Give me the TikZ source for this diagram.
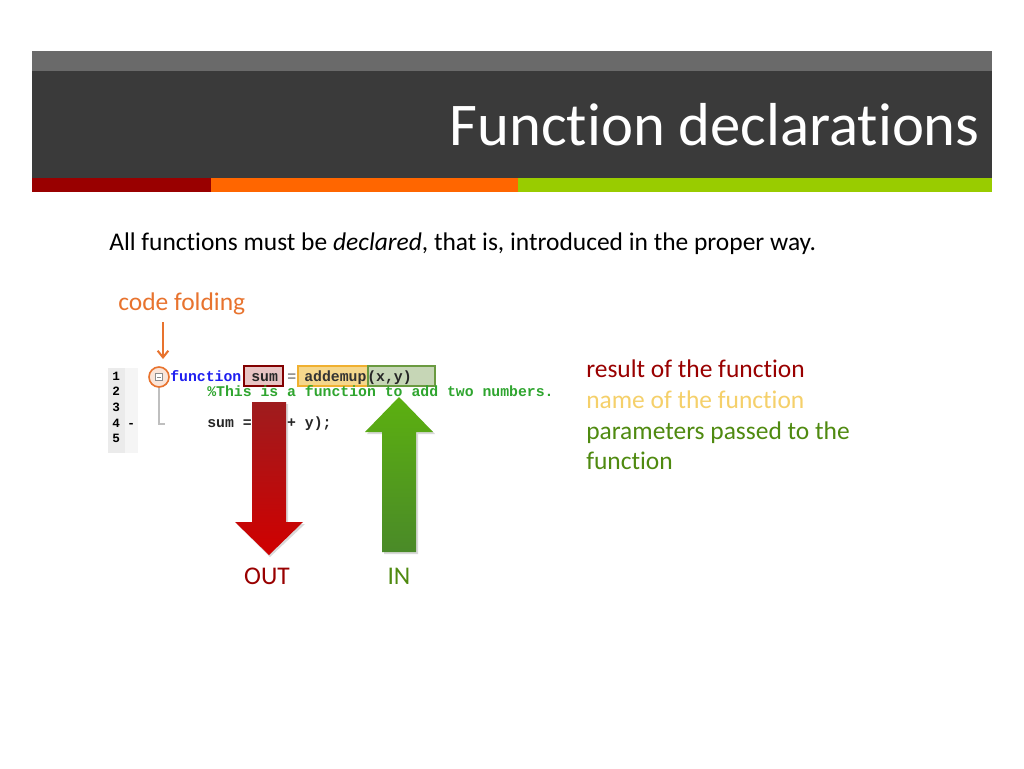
\documentclass[tikz,border=0pt]{standalone}
\usepackage{fontspec}
\usetikzlibrary{arrows.meta}
\setmainfont[Ligatures={NoCommon}]{Carlito}
\newfontfamily\codefont{Liberation Mono}
\definecolor{hdrtop}{HTML}{6A6A6A}
\definecolor{hdrdark}{HTML}{3A3A3A}
\definecolor{stripred}{HTML}{990000}
\definecolor{striporange}{HTML}{FF6600}
\definecolor{stripgreen}{HTML}{99CC00}
\definecolor{outred}{HTML}{990000}
\definecolor{ingreen}{HTML}{4F8A10}
\definecolor{namegold}{HTML}{F5D06A}
\definecolor{foldorange}{HTML}{E8732E}
\definecolor{kwblue}{HTML}{1E1EF0}
\definecolor{cmtgreen}{HTML}{2FA52F}
\begin{document}
\begin{tikzpicture}[x=0.75pt,y=-0.75pt,
  body/.style={font=\fontsize{19.1}{23}\selectfont, inner sep=0pt, anchor=base west},
  code/.style={font=\codefont\bfseries\fontsize{11.1}{12}\selectfont, inner sep=0pt, anchor=base west},
  lnum/.style={font=\codefont\bfseries\fontsize{9.5}{11}\selectfont, inner sep=0pt, anchor=base west},
  hlbox/.style={line width=1pt}]
\useasboundingbox (0,0) rectangle (1024,768);
\fill[white] (0,0) rectangle (1024,768);
% header
\fill[hdrtop] (32,51) rectangle (992,71);
\fill[hdrdark] (32,71) rectangle (992,178);
\fill[stripred] (32,178) rectangle (211,192);
\fill[striporange] (211,178) rectangle (518,192);
\fill[stripgreen] (518,178) rectangle (992,192);
\node[font=\fontsize{45.5}{54}\selectfont, text=white, inner sep=0pt, anchor=base east] (title) at (980,145) {Function declarations};
% body
\node[body] (intro) at (109,250) {All functions must be \textit{declared}, that is, introduced in the proper way.};
\node[body, text=foldorange] (fold) at (118,310) {code folding};
\coordinate (foldarrowtop) at (163,322);
% code gutter
\fill[black!8] (108,368) rectangle (138,453);
\fill[black!4] (125,368) rectangle (138,453);
\node[lnum] (l1) at (112,380) {1};
\node[lnum] (l2) at (112,395) {2};
\node[lnum] (l3) at (112,411) {3};
\node[lnum] (l4) at (112,427) {4};
\node[lnum] (l4m) at (127,427) {-};
\node[lnum] (l5) at (112,442) {5};
% fold marker line
\draw[black!25, line width=0.8pt] (159,387) -- (159,424) -- (165,424);
% highlight boxes
\draw[hlbox, draw=outred!85!black, fill={rgb,255:red,232;green,196;blue,196}] (244,366) rectangle (283,386);
\draw[hlbox, draw={rgb,255:red,240;green,176;blue,48}, fill={rgb,255:red,245;green,215;blue,140}] (298,366) rectangle (368,386);
\draw[hlbox, draw={rgb,255:red,106;green,154;blue,64}, fill={rgb,255:red,198;green,214;blue,182}] (368,366) rectangle (435,386);
% code text
\node[code, text=kwblue] (kw) at (170,381) {function};
\node[code, text=black!85] (outv) at (251,381) {sum};
\node[code, text=black!45] (eq) at (287,381) {=};
\node[code, text=black!80] (fname) at (304,381) {addemup};
\node[code, text=black!85] (params) at (367,381) {(x,y)};
\node[code, text=cmtgreen] (cmt) at (207,396) {\%This is a function to add two numbers.};
\node[code, text=black!85] (line4) at (207,427) {sum = (x + y);};
% fold circle
\draw[foldorange, line width=1.2pt, fill=foldorange!30, fill opacity=0.6] (159,377) circle (10);
\draw[black!45, line width=0.5pt, fill=white] (155.5,373.5) rectangle (162.5,380.5);
\draw[black!45, line width=0.5pt] (157,377) -- (161,377);
\node[inner sep=0pt] (foldcirc) at (159,377) {};
\coordinate (foldarrowend) at (163,359);
\draw[foldorange, line width=1.5pt, -{Straight Barb[length=5pt,width=8pt]}] (foldarrowtop) -- (foldarrowend);
% OUT arrow (red, pointing down)
\fill[black, opacity=0.15] (253,404) -- (288,404) -- (288,524) -- (305,524) -- (270,557) -- (237,524) -- (254,524) -- cycle;
\shade[top color={rgb,255:red,158;green,28;blue,30}, bottom color={rgb,255:red,208;green,0;blue,0}] (252,402) -- (286,402) -- (286,522) -- (303,522) -- (269,555) -- (235,522) -- (252,522) -- cycle;
% IN arrow (green, pointing up)
\fill[black, opacity=0.15] (401,399) -- (435,434) -- (418,434) -- (418,554) -- (384,554) -- (384,434) -- (367,434) -- cycle;
\shade[top color={rgb,255:red,92;green,176;blue,16}, bottom color={rgb,255:red,74;green,138;blue,40}] (399,397) -- (433,432) -- (416,432) -- (416,552) -- (382,552) -- (382,432) -- (365,432) -- cycle;
\node[body, text=outred, anchor=base] (out) at (267,584) {OUT};
\node[body, text=ingreen, anchor=base] (in) at (399,584) {IN};
% legend
\node[body, text=outred] (leg1) at (586,377) {result of the function};
\node[body, text=namegold] (leg2) at (586,408) {name of the function};
\node[body, text=ingreen] (leg3) at (586,439) {parameters passed to the};
\node[body, text=ingreen] (leg4) at (586,469) {function};
\end{tikzpicture}
\end{document}
